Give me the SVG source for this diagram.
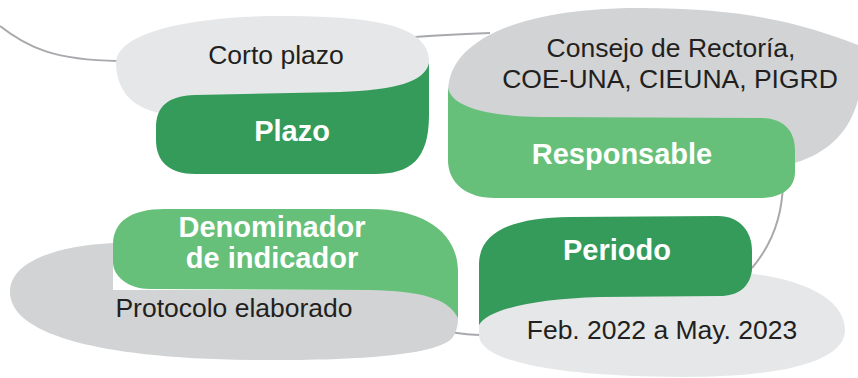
<svg xmlns="http://www.w3.org/2000/svg" width="858" height="378" viewBox="0 0 858 378">
  <style>
    .conn { fill: none; stroke: #a7a9ac; stroke-width: 2; }
    .light { fill: #e6e7e8; }
    .mid { fill: #d1d3d4; }
    .dark { fill: #359b5a; }
    .green { fill: #67c07a; }
    .val { font-family: "Liberation Sans", Arial, sans-serif; font-size: 26.5px; fill: #231f20; text-anchor: middle; }
    .lbl { font-family: "Liberation Sans", Arial, sans-serif; font-size: 29px; font-weight: bold; fill: #ffffff; text-anchor: middle; }
  </style>
  <rect width="858" height="378" fill="#ffffff"/>
  <g id="connectors">
    <path class="conn" d="M0,26 C28,48 55,60 118,61"/>
    <path class="conn" d="M415,37 C440,35 465,34 490,33"/>
    <path class="conn" d="M783,180 C783,200 780,235 752,268"/>
    <path class="conn" d="M450,332 C462,334 470,335 482,335"/>
  </g>
  <g id="node-plazo">
    <path class="light" d="M116,62 C118,30 200,16 280,16 C370,16 429,24 429,62 L429,112 L160,113 C132,108 116,90 116,62 Z"/>
    <path class="dark" d="M156,128 C156,106 168,96 195,95 L340,92 C395,90 425,82 429,63 L429,115 C429,160 410,174 375,174 L195,174 C170,174 156,162 156,140 Z"/>
    <text class="val" x="276" y="64">Corto plazo</text>
    <text class="lbl" x="292" y="141">Plazo</text>
  </g>
  <g id="node-responsable">
    <path class="mid" d="M448,92 C448,40 520,8 640,8 C740,8 800,22 858,45 L858,100 C850,130 830,152 795,163 L448,163 Z"/>
    <path class="green" d="M448,88 C452,108 490,116 540,117 L760,118 C785,118 795,132 795,150 L795,172 C795,188 782,198 760,198 L495,198 C465,198 448,182 448,160 Z"/>
    <text class="val" x="671" y="57">Consejo de Rectoría,</text>
    <text class="val" x="670" y="88">COE-UNA, CIEUNA, PIGRD</text>
    <text class="lbl" x="622" y="164">Responsable</text>
  </g>
  <g id="node-denominador">
    <path class="mid" d="M113,243 C55,246 10,262 10,292 C10,332 90,358 250,360 C360,361 440,355 453,337 C457,330 458,325 458,318 L458,290 L113,290 Z"/>
    <path class="green" d="M113,245 C113,222 130,209 165,209 L370,209 C428,209 458,235 458,272 L458,318 C448,298 420,291 370,290 L150,289 C128,289 113,276 113,262 Z"/>
    <text class="lbl" x="272" y="237">Denominador</text>
    <text class="lbl" x="272" y="268">de indicador</text>
    <text class="val" x="234" y="317">Protocolo elaborado</text>
  </g>
  <g id="node-periodo">
    <path class="light" d="M479,325 C482,298 560,272 700,271 C790,270 845,295 845,330 C845,362 780,377 685,377 C560,377 479,362 479,335 Z"/>
    <path class="dark" d="M479,325 L479,265 C479,232 510,218 570,217 L718,216 C740,216 752,232 752,250 L752,270 C750,287 738,296 720,296 L600,297 C530,299 488,310 479,325 Z"/>
    <text class="lbl" x="617" y="260">Periodo</text>
    <text class="val" x="662" y="339">Feb. 2022 a May. 2023</text>
  </g>
</svg>
